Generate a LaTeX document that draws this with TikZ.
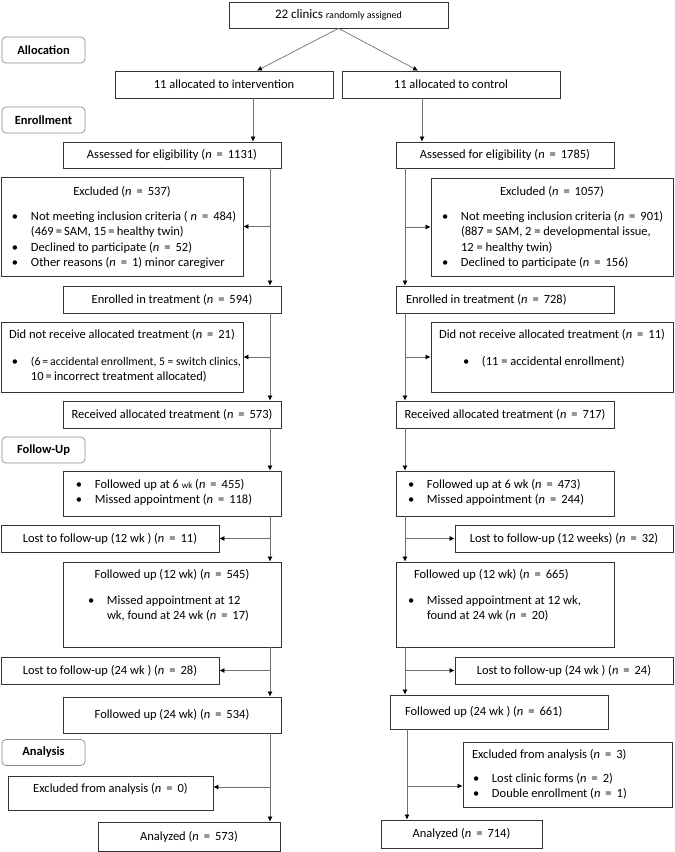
\documentclass[tikz,border=0pt]{standalone}
\usepackage{fontspec}
\setmainfont{Carlito}
\usetikzlibrary{arrows.meta,positioning}

\definecolor{boxline}{HTML}{333333}
\definecolor{linkgray}{HTML}{707070}
\definecolor{stageline}{HTML}{8C8C8C}

\newcommand{\nis}[1]{\textit{n}\hspace{0.4em}=\hspace{0.4em}#1}
\newcommand{\bul}[1]{\hspace*{#1pt}\makebox[19pt][l]{\textbullet}}
\newcommand{\cont}[1]{\hspace*{#1pt}}

\tikzset{
  box/.style={draw=boxline, line width=0.8pt, inner sep=0pt, rectangle},
  wh/.style 2 args={minimum width=#1pt, minimum height=#2pt},
  stage/.style={draw=stageline, line width=0.7pt, rounded corners=4pt, inner sep=0pt,
    minimum width=83pt, minimum height=26pt, font=\fontsize{12.5}{14}\selectfont\bfseries},
  link/.style={draw=linkgray, line width=0.7pt, -{Latex[length=5pt,width=5pt,color=black]}},
}

\begin{document}
\begin{tikzpicture}[x=1pt,y=-1pt, every node/.style={font=\fontsize{12.5}{15.5}\selectfont}]
\useasboundingbox (0,0) rectangle (675,852);

% stage labels
\node[stage] (alloc)    at (43.5,50)    {Allocation};
\node[stage] (enroll)   at (43.5,120)   {Enrollment};
\node[stage] (followup) at (43.5,450)   {Follow-Up};
\node[stage] (analysis) at (43.5,752.5) {Analysis};

% randomisation
\node[box, wh={219}{26}] (rand)   at (338.5,15) {\fontsize{13}{14}\selectfont 22 clinics {\fontsize{10}{11}\selectfont randomly assigned}};
\node[box, wh={218}{27}] (interv) at (224,84.5) {11 allocated to intervention};
\node[box, wh={218}{27}] (ctrl)   at (451,84.5) {11 allocated to control};

% intervention arm
\node[box, wh={218}{26}] (assessL) at (172,155) {Assessed for eligibility (\nis{1131})};
\node[box] (exclL) at (122,226.5) {\parbox[c][99pt][t]{242pt}{%
  \centering\rule{0pt}{18pt}Excluded (\nis{537})\par\vspace{9.5pt}\raggedright
  \bul{11}Not meeting inclusion criteria ( \nis{484})\\
  \cont{30}(469\,=\,SAM, 15\,=\,healthy twin)\\
  \bul{11}Declined to participate (\nis{52})\\
  \bul{11}Other reasons (\nis{1}) minor caregiver}};
\node[box, wh={218}{27}] (enrolL) at (172,299.5) {Enrolled in treatment (\nis{594})};
\node[box] (notrecL) at (122,357) {\parbox[c][70pt][t]{242pt}{%
  \centering\rule{0pt}{16pt}\mbox{Did not receive allocated treatment (\nis{21})}\par\vspace{11.5pt}\raggedright
  \bul{11}\mbox{\fontsize{11.7}{15.5}\selectfont(6\,=\,accidental enrollment, 5 = switch clinics,}\\
  \cont{30}10\,=\,incorrect treatment allocated)}};
\node[box, wh={218}{27}] (recvL) at (172,414.5) {Received allocated treatment (\nis{573})};
\node[box] (fu6L) at (172,493.5) {\parbox[c][45pt][t]{218pt}{\raggedright
  \rule{0pt}{17pt}\bul{13}Followed up at 6 {\small wk} (\nis{455})\\
  \bul{13}Missed appointment (\nis{118})}};
\node[box, wh={218}{27}] (lost12L) at (110,538.5) {Lost to follow-up (12 wk ) (\nis{11})};
\node[box] (fu12L) at (172,604.5) {\parbox[c][85pt][t]{218pt}{%
  \centering\rule{0pt}{16pt}Followed up (12 wk) (\nis{545})\par\vspace{10.5pt}\raggedright
  \bul{25}Missed appointment at 12\\
  \cont{44}wk, found at 24 wk (\nis{17})}};
\node[box, wh={218}{27}] (lost24L) at (110,670.5) {Lost to follow-up (24 wk ) (\nis{28})};
\node[box, wh={218}{36}] (fu24L) at (172,715) {Followed up (24 wk) (\nis{534})};
\node[box] (exanL) at (110.5,793) {\parbox[c][34pt][t]{205pt}{%
  \centering\rule{0pt}{16pt}Excluded from analysis (\nis{0})}};
\node[box, wh={182}{29}] (analyL) at (189,836.5) {Analyzed (\nis{573})};

% control arm
\node[box, wh={218}{26}] (assessR) at (505,155) {Assessed for eligibility (\nis{1785})};
\node[box] (exclR) at (552,227) {\parbox[c][98pt][t]{242pt}{%
  \centering\rule{0pt}{17pt}Excluded (\nis{1057})\par\vspace{9.5pt}\raggedright
  \bul{11}Not meeting inclusion criteria (\nis{901})\\
  \cont{30}(887 = SAM, 2 = developmental issue,\\
  \cont{30}12 = healthy twin)\\
  \bul{11}Declined to participate (\nis{156})}};
\node[box, wh={218}{27}] (enrolR) at (505,299.5) {\makebox[218pt][l]{\hspace*{10pt}Enrolled in treatment (\nis{728})}};
\node[box] (notrecR) at (552,357) {\parbox[c][70pt][t]{242pt}{%
  \centering\rule{0pt}{16pt}\mbox{Did not receive allocated treatment (\nis{11})}\par\vspace{11.5pt}\raggedright
  \bul{32}(11 = accidental enrollment)}};
\node[box, wh={218}{27}] (recvR) at (505,414.5) {Received allocated treatment (\nis{717})};
\node[box] (fu6R) at (505,493.5) {\parbox[c][45pt][t]{218pt}{\raggedright
  \rule{0pt}{17pt}\bul{12}Followed up at 6 wk (\nis{473})\\
  \bul{12}Missed appointment (\nis{244})}};
\node[box, wh={218}{27}] (lost12R) at (564,538.5) {Lost to follow-up (12 weeks) (\nis{32})};
\node[box] (fu12R) at (505,604.5) {\parbox[c][85pt][t]{218pt}{\raggedright
  \rule{0pt}{16pt}\hspace*{18pt}Followed up (12 wk) (\nis{665})\par\vspace{10.5pt}
  \bul{12}Missed appointment at 12 wk,\\
  \cont{31}found at 24 wk (\nis{20})}};
\node[box, wh={218}{27}] (lost24R) at (564,670.5) {Lost to follow-up (24 wk ) (\nis{24})};
\node[box, wh={218}{34}] (fu24R) at (499,712) {\makebox[218pt][l]{\hspace*{15pt}Followed up (24 wk ) (\nis{661})}};
\node[box] (exanR) at (567.5,774.5) {\parbox[c][65pt][t]{209pt}{\raggedright
  \rule{0pt}{16pt}\hspace*{9pt}Excluded from analysis (\nis{3})\par\vspace{8.5pt}
  \bul{10}Lost clinic forms (\nis{2})\\
  \bul{10}Double enrollment (\nis{1})}};
\node[box, wh={161}{28}] (analyR) at (461.5,834) {Analyzed (\nis{714})};

% connectors
\draw[link] (rand.south) -- ([xshift=33pt]interv.north);
\draw[link] (rand.south) -- ([xshift=-33pt]ctrl.north);
\draw[link] ([xshift=29pt]interv.south) coordinate (dL) -- (dL |- assessL.north);
\draw[link] ([xshift=-29pt]ctrl.south) coordinate (dR) -- (dR |- assessR.north);

\coordinate (spL)  at (270,0);
\coordinate (spR)  at (405,0);
\coordinate (spR2) at (407,0);

\foreach \a/\b in {assessL/enrolL, enrolL/recvL, recvL/fu6L, fu6L/fu12L, fu12L/fu24L, fu24L/analyL}
  \draw[link] (\a.south -| spL) -- (\b.north -| spL);
\foreach \c in {exclL, notrecL, lost12L, lost24L}
  \draw[link] (\c.east -| spL) -- (\c.east);
\coordinate (exanLin) at ([yshift=6pt]exanL.east);
\draw[link] (exanLin -| spL) -- (exanLin);

\foreach \a/\b in {assessR/enrolR, enrolR/recvR, recvR/fu6R, fu6R/fu12R, fu12R/fu24R}
  \draw[link] (\a.south -| spR) -- (\b.north -| spR);
\draw[link] (fu24R.south -| spR2) -- (analyR.north -| spR2);
\foreach \c in {exclR, notrecR, lost12R, lost24R}
  \draw[link] (\c.west -| spR) -- (\c.west);
\coordinate (exanRin) at ([yshift=-11.5pt]exanR.west);
\draw[link] (exanRin -| spR2) -- (exanRin);
\end{tikzpicture}
\end{document}
